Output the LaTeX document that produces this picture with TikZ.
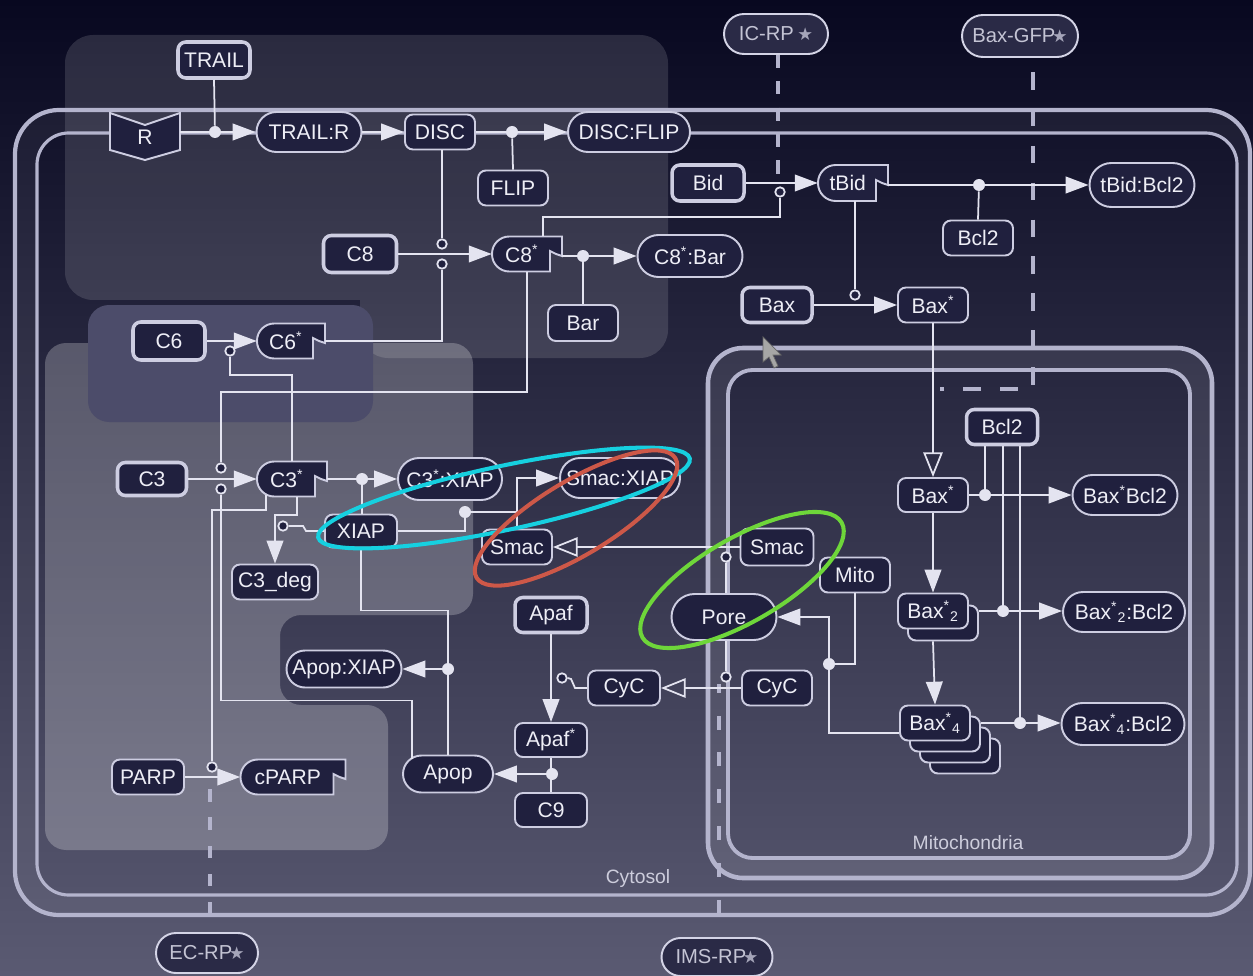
\documentclass[tikz,border=0pt]{standalone}
\usepackage{fontspec}
\setmainfont{Liberation Sans}
\newfontfamily\dejavu{DejaVu Sans}
\usetikzlibrary{shapes.misc,arrows.meta,calc}
\definecolor{bgtop}{RGB}{8,8,32}
\definecolor{bgmid}{RGB}{40,40,72}
\definecolor{bgbot}{RGB}{90,90,114}
\definecolor{nodefill}{RGB}{32,32,62}
\definecolor{nodeline}{RGB}{205,205,225}
\definecolor{linec}{RGB}{228,228,240}
\definecolor{txt}{RGB}{238,238,246}
\definecolor{memb}{RGB}{180,180,205}
\definecolor{tagfill}{RGB}{42,42,70}
\definecolor{tagtxt}{RGB}{196,196,212}
\definecolor{tagstarc}{RGB}{165,165,185}
\definecolor{lblc}{RGB}{205,205,220}
\definecolor{regtwo}{RGB}{76,76,106}
\definecolor{annocyan}{RGB}{22,208,224}
\definecolor{annored}{RGB}{205,88,72}
\definecolor{annogreen}{RGB}{110,214,58}
\newcommand\starmark{{\dejavu\fontsize{10}{10}\selectfont\color{tagstarc}★}}
\newcommand\flagsp[6]{%
  \path[flagsty] (#2,{#3-#5/2}) [rounded corners=#5*0.28pt] -- ({#2-#4/2},{#3-#5/2}) -- ({#2-#4/2},{#3+#5/2}) -- (#2,{#3+#5/2}) [sharp corners] -- ({#2+#4/2-12},{#3+#5/2}) -- ({#2+#4/2-12},{#3-3}) -- ({#2+#4/2-6},{#3}) -- ({#2+#4/2},{#3+2}) -- ({#2+#4/2},{#3-#5/2}) -- cycle;
  \node[ghost, wh={#4}{#5}] (#1) at (#2,#3) {\hspace*{-6pt}#6};
}
\tikzset{
  wh/.style 2 args={minimum width={#1*0.02cm}, minimum height={#2*0.02cm}},
  nbase/.style={inner sep=0pt, text=txt, font=\fontsize{12}{14}\selectfont},
  sp/.style={nbase, draw=nodeline, line width=1.1pt, fill=nodefill, rectangle, rounded corners=4.5pt},
  spk/.style={sp, line width=2pt},
  cx/.style={nbase, draw=nodeline, line width=1.1pt, fill=nodefill, rounded rectangle},
  tagsty/.style={nbase, draw=nodeline!85, line width=1.1pt, fill=tagfill, rounded rectangle, text=tagtxt, font=\fontsize{11.5}{13}\selectfont},
  lbl/.style={text=lblc, font=\fontsize{11}{13}\selectfont},
  ghost/.style={nbase, rectangle},
  flagsty/.style={draw=nodeline, line width=1.1pt, fill=nodefill},
  bbox/.style={draw=nodeline, line width=1.1pt, fill=nodefill, rounded corners=4.5pt},
  ln/.style={draw=linec, line width=1pt},
  arr/.style={ln, -{Triangle[length=13pt,width=9.5pt]}},
  oarr/.style={ln, -{Triangle[open,length=14pt,width=11pt]}},
  rdot/.style={circle, fill=linec, inner sep=0pt, minimum size=0.24cm},
  oc/.style={circle, draw=linec, line width=1pt, fill=nodefill, inner sep=0pt, minimum size=0.19cm},
  dsh/.style={draw=memb, line width=2.6pt},
  anno/.style={line width=2.3pt},
}
\begin{document}
\begin{tikzpicture}[x=0.02cm,y=-0.02cm]
\useasboundingbox (0,0) rectangle (1253,976);
% background
\shade[top color=bgtop, middle color=bgmid, bottom color=bgbot] (0,0) rectangle (1253,976);
% shaded regions
\fill[white, opacity=.13, rounded corners=16pt] (65,35) rectangle (668,300) (360,200) rectangle (668,358);
\fill[white, opacity=.24, rounded corners=12pt] (45,343) -- (473,343) -- (473,615) -- (280,615) -- (280,705) -- (388,705) -- (388,850) -- (45,850) -- cycle;
\fill[regtwo, rounded corners=12pt] (88,305) rectangle (373,422);
% membranes
\fill[white, opacity=.05, even odd rule] [rounded corners=25pt] (15,110) rectangle (1250,915) [rounded corners=18pt] (37,133) rectangle (1237,895);
\draw[memb, line width=2.4pt, rounded corners=25pt] (15,110) rectangle (1250,915);
\draw[memb, line width=1.8pt, rounded corners=18pt] (37,133) rectangle (1237,895);
\fill[white, opacity=.09, even odd rule] [rounded corners=20pt] (708,348) rectangle (1212,878) [rounded corners=14pt] (728,370) rectangle (1190,858);
\draw[memb, line width=2.6pt, rounded corners=20pt] (708,348) rectangle (1212,878);
\draw[memb, line width=2.2pt, rounded corners=14pt] (728,370) rectangle (1190,858);
% labels
\node[lbl] (cytosol) at (638,878) {Cytosol};
\node[lbl] (mitolbl) at (968,843) {Mitochondria};
% tags
\node[tagsty, wh={104}{40}] (ICRP) at (776,34) {IC-RP\,\starmark};
\node[tagsty, wh={116}{42}] (BaxGFP) at (1020,36) {Bax-GFP\kern-2pt\starmark};
\node[tagsty, wh={102}{40}] (ECRP) at (207,953) {EC-RP\kern-2pt\starmark};
\node[tagsty, wh={111}{38}] (IMSRP) at (717,957) {IMS-RP\kern-2pt\starmark};
% dashed reporter lines
\draw[dsh, dash pattern=on 7.5pt off 7.5pt] ($(ICRP.south)+(2,0)$) -- ($(ICRP.south)+(2,129)$);
\draw[dsh, dash pattern=on 10pt off 11pt] ($(BaxGFP.south)+(13,14)$) -- ++(0,317) -- ++(-93,0);
\draw[dsh, dash pattern=on 7pt off 9pt] ($(ECRP.north)+(3,-18)$) -- ++(0,-125);
\draw[dsh, dash pattern=on 8pt off 13pt] ($(IMSRP.north)+(2,-23)$) -- ++(0,-230);
% cursor
\filldraw[fill=gray!70, draw=black!60, line width=0.4pt] (763,337) -- (763,362) -- (769,357) -- (774,368) -- (778,366) -- (773,355) -- (781,355) -- cycle;
% receptor
\path[flagsty] (110,113) -- (145,125) -- (180,113) -- (180,150) -- (145,160) -- (110,150) -- cycle;
\node[ghost, wh={70}{47}] (R) at (145,137) {\raisebox{-4pt}{R}};
% species and complexes
\node[spk, wh={72}{36}] (TRAIL) at (214,60) {TRAIL};
\node[cx, wh={105}{40}] (TRAILR) at (309,132) {TRAIL:R};
\node[sp, wh={70}{35}] (DISC) at (440,132) {DISC};
\node[sp, wh={70}{35}] (FLIP) at (513,188) {FLIP};
\node[cx, wh={122}{40}] (DISCFLIP) at (629,132) {DISC:FLIP};
\node[spk, wh={72}{36}] (Bid) at (708,183) {Bid};
\flagsp{tBid}{853}{183}{70}{36}{tBid}
\node[sp, wh={70}{35}] (BclT) at (978,238) {Bcl2};
\node[cx, wh={105}{44}] (tBidBcl) at (1142,185) {tBid:Bcl2};
\node[spk, wh={70}{35}] (Bax) at (777,305) {Bax};
\node[sp, wh={70}{35}] (BaxsT) at (933,305) {Bax\textsuperscript{*}};
\node[spk, wh={73}{37}] (C8) at (360,254) {C8};
\flagsp{C8s}{527}{254}{70}{35}{C8\textsuperscript{*}}
\node[cx, wh={105}{42}] (C8Bar) at (690,256) {C8\textsuperscript{*}:Bar};
\node[sp, wh={70}{36}] (Bar) at (583,323) {Bar};
\node[spk, wh={72}{38}] (C6) at (169,341) {C6};
\flagsp{C6s}{291}{341}{68}{35}{C6\textsuperscript{*}}
\node[spk, wh={69}{33}] (C3) at (152,479) {C3};
\flagsp{C3s}{292}{479}{70}{35}{C3\textsuperscript{*}}
\node[cx, wh={104}{42}] (C3X) at (450,479) {C3\textsuperscript{*}:XIAP};
\node[sp, wh={72}{33}] (XIAP) at (361,531) {XIAP};
\node[sp, wh={86}{35}] (C3deg) at (275,582) {C3\_deg};
\node[cx, wh={120}{40}] (SmacX) at (620,478) {Smac:XIAP};
\node[sp, wh={70}{35}] (Smacc) at (517,547) {Smac};
\node[sp, wh={73}{37}] (Smacm) at (777,547) {Smac};
\node[sp, wh={70}{35}] (Mito) at (855,575) {Mito};
\node[cx, wh={105}{46}] (Pore) at (724,617) {Pore};
\node[sp, wh={70}{35}] (CyCm) at (777,688) {CyC};
\node[sp, wh={72}{35}] (CyCc) at (624,688) {CyC};
\node[spk, wh={72}{35}] (Apaf) at (551,615) {Apaf};
\node[sp, wh={72}{34}] (Apafs) at (551,740) {Apaf\textsuperscript{*}};
\node[sp, wh={72}{34}] (C9) at (551,810) {C9};
\node[cx, wh={90}{37}] (Apop) at (448,774) {Apop};
\node[cx, wh={115}{37}] (ApopX) at (344,669) {Apop:XIAP};
\node[sp, wh={72}{35}] (PARP) at (148,777) {PARP};
\flagsp{cPARP}{293}{777}{105}{35}{cPARP}
\node[spk, wh={71}{35}] (BclM) at (1002,427) {Bcl2};
\node[sp, wh={70}{34}] (BaxsM) at (933,495) {Bax\textsuperscript{*}};
\node[cx, wh={105}{40}] (BaxBcl) at (1125,495) {Bax\textsuperscript{*}Bcl2};
\path[bbox] (908,605.5) rectangle (978,640.5);
\node[sp, wh={70}{35}] (Bax2) at (933,611) {Bax\textsuperscript{*}\textsubscript{2}};
\node[cx, wh={122}{40}] (Bax2Bcl) at (1124,612) {Bax\textsuperscript{*}\textsubscript{2}:Bcl2};
\path[bbox] (930,738.5) rectangle (1000,773.5);
\path[bbox] (920,727.5) rectangle (990,762.5);
\path[bbox] (910,716.5) rectangle (980,751.5);
\node[sp, wh={70}{35}] (Bax4) at (935,723) {Bax\textsuperscript{*}\textsubscript{4}};
\node[cx, wh={123}{42}] (Bax4Bcl) at (1123,724) {Bax\textsuperscript{*}\textsubscript{4}:Bcl2};
% junction dots and modifier circles
\node[rdot] (d1) at (215,132) {};
\node[rdot] (d2) at (512,132) {};
\node[oc] (cBid) at (780,192) {};
\node[rdot] (dtB) at (979,185) {};
\node[oc] (cBax) at (855,295) {};
\node[oc] (c8a) at (442,244) {};
\node[oc] (c8b) at (442,264) {};
\node[rdot] (dC8) at (583,256) {};
\node[oc] (cC6) at (230,351) {};
\node[oc] (cC3a) at (221,468) {};
\node[oc] (cC3b) at (221,489) {};
\node[rdot] (dC3) at (362,479) {};
\node[oc] (cDeg) at (283,526) {};
\node[rdot] (dXS) at (465,512) {};
\node[oc] (cSmac) at (726,557) {};
\node[oc] (cCyC) at (726,677) {};
\node[oc] (cApaf) at (562,678) {};
\node[rdot] (dApop) at (552,774) {};
\node[rdot] (dAX) at (448,669) {};
\node[rdot] (dMito) at (829,664) {};
\node[oc] (cP) at (212,767) {};
\node[rdot] (dB1) at (985,495) {};
\node[rdot] (dB2) at (1003,611) {};
\node[rdot] (dB4) at (1020,723) {};
% connectors
\draw[ln] (TRAIL.south) -- (d1);
\draw[arr] (R.east |- d1) -- (TRAILR.west);
\draw[arr] (TRAILR.east) -- (DISC.west);
\draw[arr] (DISC.east) -- (DISCFLIP.west);
\draw[ln] (FLIP.north) -- (d2);
\draw[ln] (c8a |- DISC.south) -- (c8a.north);
\draw[arr] (C8.east) -- (C8s.west);
\draw[ln] (c8b.south) |- (C6s.east);
\draw[arr] (C8s.east |- dC8) -- (C8Bar.west);
\draw[ln] (Bar.north) -- (dC8);
\draw[ln] ($(C8s.north)+(16,0)$) -- ++(0,-19) -| (cBid.south);
\draw[arr] (Bid.east) -- (tBid.west);
\draw[arr] (tBid.east |- dtB) -- (tBidBcl.west);
\draw[ln] (BclT.north) -- (dtB);
\draw[ln] (cBax |- tBid.south) -- (cBax.north);
\draw[arr] (Bax.east) -- (BaxsT.west);
\draw[oarr] (BaxsT.south) -- (BaxsM.north);
\draw[ln] (dB1 |- BclM.south) -- (dB1);
\draw[ln] (dB2 |- BclM.south) -- (dB2);
\draw[ln] (dB4 |- BclM.south) -- (dB4);
\draw[arr] (BaxsM.east) -- (BaxBcl.west);
\draw[arr] (BaxsM.south) -- (Bax2.north);
\draw[arr] ($(Bax2.east)+(10,0)$) -- (Bax2.east -| Bax2Bcl.west);
\draw[arr] ($(Bax2.south)+(0,12)$) -- (Bax4.north);
\draw[arr] ($(Bax4.east)+(10,0)$) -- (Bax4.east -| Bax4Bcl.west);
\draw[arr] ($(Bax4.west)+(0,10)$) -| (dMito.center) |- (Pore.east);
\draw[ln] (Mito.south) |- (dMito);
\draw[oarr] (Smacm.west) -- (Smacc.east);
\draw[ln] (cSmac |- Pore.north) -- (cSmac.south);
\draw[oarr] (CyCm.west) -- (CyCc.east);
\draw[ln] (cCyC |- Pore.south) -- (cCyC.north);
\draw[ln] (CyCc.west) -- ++(-12,0) -- ++(-4,-9) -- (cApaf.east);
\draw[arr] (Apaf.south) -- (Apafs.north);
\draw[ln] (Apafs.south) -- (C9.north);
\draw[arr] (dApop) -- (Apop.east);
\draw[ln] (XIAP.south) -- ++(0,62) -| (Apop.north);
\draw[arr] (dAX) -- (ApopX.east);
\draw[ln] ($(Apop.north)+(-36,4)$) -- ++(0,-58) -| (cC3b.south);
\draw[arr] (C3.east) -- (C3s.west);
\draw[arr] (C6.east) -- (C6s.west);
\draw[ln] (C8s.south) -- ++(0,120) -| (cC3a.north);
\draw[ln] (C3s.north) -- ++(0,-86) -| (cC6.south);
\draw[arr] (C3s.east) -- (C3X.west);
\draw[ln] (dC3 |- XIAP.north) -- (dC3);
\draw[ln] ($(C3s.south west)+(9,-2)$) -- ++(0,15) -| (cP.north);
\draw[arr] ($(C3s.south)+(5,0)$) -- ++(0,18) -| (C3deg.north);
\draw[ln] (XIAP.west) -- ++(-18,0) -- ++(-3,-5) -- (cDeg.east);
\draw[ln] (XIAP.east) -| (dXS.south);
\draw[ln] (dXS) -- (dXS -| Smacc.north);
\draw[arr] (Smacc.north) |- (SmacX.west);
\draw[arr] (PARP.east) -- (cPARP.west);
% annotation ellipses
\draw[anno, annocyan, rotate around={12:(504,498)}] (504,498) ellipse [x radius=3.8cm, y radius=0.64cm];
\draw[anno, annored, rotate around={31:(576,518)}] (576,518) ellipse [x radius=2.32cm, y radius=0.74cm];
\draw[anno, annogreen, rotate around={30:(742,580)}] (742,580) ellipse [x radius=2.3cm, y radius=0.84cm];
\end{tikzpicture}
\end{document}
